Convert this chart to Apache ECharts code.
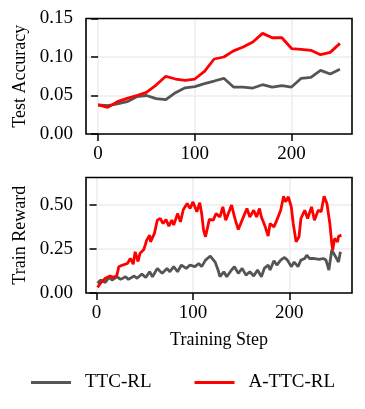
<!DOCTYPE html>
<html>
<head>
<meta charset="utf-8">
<script src="https://cdn.jsdelivr.net/npm/echarts@6/dist/echarts.min.js"></script>
<style>
html,body{margin:0;padding:0;background:#fff;}
#main{width:365px;height:409px;}
</style>
</head>
<body>
<div id="main"></div>
<script>
// test accuracy, evaluated every 10 steps
var testSteps = [0,10,20,30,40,50,60,70,80,90,100,110,120,130,140,150,160,170,180,190,200,210,220,230,240,250];
var testAccTTC = [0.0377,0.0368,0.039,0.042,0.0485,0.050,0.0459,0.0446,0.0537,0.060,0.0615,0.0654,0.0688,0.0723,0.061,0.061,0.0597,0.064,0.061,0.0628,0.061,0.0723,0.0736,0.0827,0.078,0.084];
var testAccATTC = [0.0377,0.0346,0.042,0.0463,0.050,0.054,0.0636,0.0749,0.0714,0.0697,0.0714,0.0814,0.0974,0.100,0.108,0.113,0.1195,0.1307,0.125,0.125,0.111,0.110,0.1087,0.103,0.106,0.1177];

// train reward (smoothed)
var rewardStepsTTC = [1,4,9,13,16,21,25,30,33,39,42,47,51,55,58,63,68,73,76,80,84,88,93,97,102,106,109,113,118,123,126,128,132,135,140,143,147,151,155,159,163,167,171,174,178,180,184,187,191,195,198,202,205,209,212,216,218,221,226,231,235,238,241,242,244,246,249,251,253];
var rewardTTC = [0.055,0.073,0.06,0.088,0.073,0.092,0.077,0.092,0.077,0.096,0.083,0.107,0.088,0.12,0.092,0.139,0.111,0.139,0.12,0.149,0.12,0.158,0.139,0.158,0.149,0.167,0.149,0.186,0.209,0.175,0.13,0.092,0.12,0.092,0.13,0.149,0.111,0.139,0.101,0.12,0.096,0.13,0.092,0.139,0.158,0.13,0.182,0.158,0.186,0.201,0.186,0.149,0.175,0.149,0.186,0.195,0.214,0.195,0.195,0.19,0.195,0.186,0.13,0.12,0.243,0.233,0.195,0.175,0.233];
var rewardStepsATTC = [1,4,9,14,18,21,23,27,32,35,38,40,43,45,49,52,55,56,60,63,66,69,72,75,78,80,84,87,90,94,97,100,104,107,109,111,113,117,121,124,128,131,134,138,140,144,147,151,156,159,163,166,169,171,175,178,180,184,187,191,194,196,199,202,204,207,210,212,216,219,223,226,230,233,236,239,242,244,245,247,250,251,254];
var rewardATTC = [0.032,0.055,0.083,0.096,0.088,0.099,0.148,0.158,0.167,0.196,0.163,0.233,0.178,0.224,0.246,0.299,0.327,0.289,0.337,0.412,0.421,0.393,0.415,0.378,0.412,0.384,0.449,0.402,0.472,0.506,0.478,0.515,0.459,0.51,0.45,0.355,0.318,0.416,0.412,0.449,0.43,0.487,0.412,0.468,0.497,0.412,0.359,0.412,0.478,0.43,0.468,0.43,0.478,0.43,0.374,0.322,0.393,0.374,0.412,0.468,0.547,0.515,0.544,0.487,0.393,0.289,0.318,0.421,0.468,0.421,0.487,0.412,0.468,0.459,0.547,0.506,0.393,0.28,0.243,0.308,0.289,0.32,0.327];

var xTicks = [0,100,200];
var accTicks = [0,0.05,0.1,0.15];
var rewardTicks = [0,0.25,0.5];

var GRAY = '#555555', RED = '#ff0000';
var FONT = 'Liberation Serif';

function pairs(xs, ys){
	var d = [];
	for (var i = 0; i < xs.length; i++) d.push([xs[i], ys[i]]);
	return d;
}

function xAxisCfg(idx, min, max, name){
	return {
		type:'value', gridIndex:idx, min:min, max:max,
		name:name, nameLocation:'middle', nameGap:38,
		nameTextStyle:{fontFamily:FONT, fontSize:18, color:'#000'},
		axisLine:{show:false},
		axisTick:{show:true, length:7, lineStyle:{color:'#000', width:1.5}, customValues:xTicks},
		axisLabel:{fontFamily:FONT, fontSize:19, color:'#000', margin:11, customValues:xTicks},
		splitLine:{show:true, lineStyle:{color:'#ececec', width:1.5}}
	};
}

function yAxisCfg(idx, min, max, ticks, name, gap){
	return {
		type:'value', gridIndex:idx, min:min, max:max,
		name:name, nameLocation:'middle', nameGap:gap,
		nameTextStyle:{fontFamily:FONT, fontSize:18, color:'#000'},
		axisLine:{show:false},
		axisTick:{show:true, length:7, lineStyle:{color:'#000', width:1.5}, customValues:ticks},
		axisLabel:{fontFamily:FONT, fontSize:19, color:'#000', margin:13, customValues:ticks,
			formatter:function(v){ return v.toFixed(2); }},
		splitLine:{show:true, lineStyle:{color:'#ececec', width:1.5}}
	};
}

function lineSeries(name, color, xi, data){
	return {
		name:name, type:'line', xAxisIndex:xi, yAxisIndex:xi,
		data:data, showSymbol:false, symbol:'none', smooth:false,
		lineStyle:{color:color, width:2.8}, itemStyle:{color:color},
		z: color === RED ? 3 : 2
	};
}

// black frame round each panel, drawn on top of the grid lines
function frame(top){
	return {
		type:'rect', z:100, silent:true,
		shape:{x:86, y:top, width:266, height:115.5},
		style:{fill:null, stroke:'#000', lineWidth:1.6}
	};
}

var chart = echarts.init(document.getElementById('main'), null, {renderer:'canvas'});
chart.setOption({
	animation:false,
	backgroundColor:'#fff',
	grid:[
		{left:86, right:13, top:18.5, height:115.5},
		{left:86, right:13, top:177.5, height:115.5}
	],
	xAxis:[
		xAxisCfg(0, -12.5, 262.5, ''),
		xAxisCfg(1, -11, 265, 'Training Step')
	],
	yAxis:[
		yAxisCfg(0, 0, 0.15, accTicks, 'Test Accuracy', 54),
		yAxisCfg(1, 0, 0.653, rewardTicks, 'Train Reward', 50)
	],
	legend:{
		data:['TTC-RL','A-TTC-RL'],
		left:26, top:368,
		itemWidth:40, itemHeight:3, itemGap:43,
		icon:'rect',
		textStyle:{fontFamily:FONT, fontSize:19, color:'#000', padding:[0,0,0,9]}
	},
	graphic:[frame(18.5), frame(177.5)],
	series:[
		lineSeries('TTC-RL', GRAY, 0, pairs(testSteps, testAccTTC)),
		lineSeries('A-TTC-RL', RED, 0, pairs(testSteps, testAccATTC)),
		lineSeries('TTC-RL', GRAY, 1, pairs(rewardStepsTTC, rewardTTC)),
		lineSeries('A-TTC-RL', RED, 1, pairs(rewardStepsATTC, rewardATTC))
	]
});
</script>
</body>
</html>
